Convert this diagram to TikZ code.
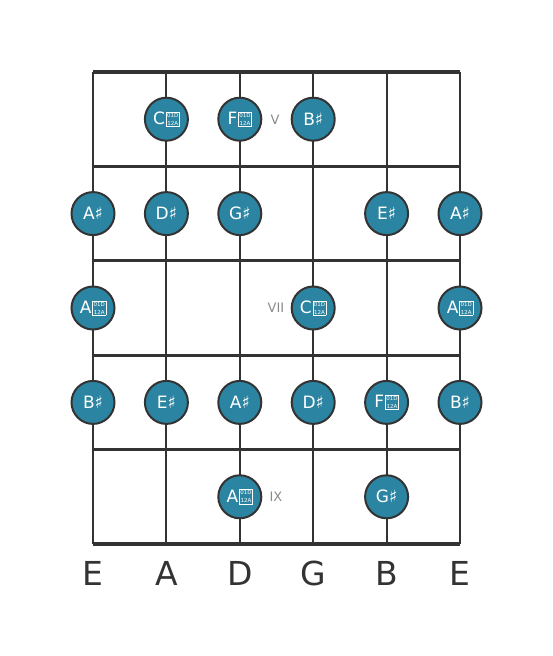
\documentclass[tikz,border=0pt]{standalone}
\usepackage{fontspec}
\setmainfont{DejaVu Sans}
\usetikzlibrary{calc}

\definecolor{notefill}{HTML}{2B84A1}
\definecolor{boardline}{HTML}{333333}
\definecolor{fretmark}{HTML}{8A8A8A}

% missing-glyph box printed for the double sharp
\newcommand{\dsharp}{{\setlength{\fboxsep}{0.7pt}\setlength{\fboxrule}{0.6pt}%
  \kern0.8pt\raisebox{-0.6pt}{\fbox{\fontsize{5.5}{6}\selectfont\shortstack{01D\\[0.8pt]12A}}}}}

\tikzset{
  note/.style={circle, minimum size=43, inner sep=0pt, fill=notefill,
    draw=boardline, line width=2, text=white, font=\fontsize{17}{17}\selectfont},
  fretnum/.style={text=fretmark, font=\fontsize{13}{13}\selectfont},
  stringname/.style={text=boardline, font=\fontsize{33}{33}\selectfont}
}

\begin{document}
\begin{tikzpicture}[x=1pt,y=-1pt]
  \useasboundingbox (0,0) rectangle (553,656);

  % grid of the board
  \def\xstart{93}  % first string
  \def\gap{73.4}   % string spacing
  \def\ynut{72}    % nut
  \def\fret{94.4}  % fret spacing

  % string ends
  \foreach \i in {0,...,5} {
    \coordinate (t\i) at ({\xstart+\i*\gap}, \ynut);
    \coordinate (b\i) at ({\xstart+\i*\gap}, {\ynut+5*\fret});
  }
  % fret ends
  \foreach \j in {0,...,5} {
    \coordinate (fl\j) at (\xstart, {\ynut+\j*\fret});
    \coordinate (fr\j) at ({\xstart+5*\gap}, {\ynut+\j*\fret});
  }

  % Draw strings
  \foreach \i in {0,...,5}
    \draw[boardline, line width=2] (t\i) -- (b\i);

  % Draw frets
  \draw[boardline, line width=4.5] (fl0) -- (fr0);
  \foreach \j in {1,...,4}
    \draw[boardline, line width=3.2] (fl\j) -- (fr\j);
  \draw[boardline, line width=4.5] (fl5) -- (fr5);

  % Draw notes (string/fret/name/label)
  \foreach \s/\f/\n/\l in {
      1/0/c1/C\dsharp, 2/0/f1/F\dsharp, 3/0/b1/B♯,
      0/1/a2/A♯, 1/1/d2/D♯, 2/1/g2/G♯, 4/1/e2/E♯, 5/1/a3/A♯,
      0/2/a4/A\dsharp, 3/2/c2/C\dsharp, 5/2/a5/A\dsharp,
      0/3/b2/B♯, 1/3/e3/E♯, 2/3/a6/A♯, 3/3/d3/D♯, 4/3/f2/F\dsharp, 5/3/b3/B♯,
      2/4/a7/A\dsharp, 4/4/g3/G♯}
    \node[note] (\n) at ({\xstart+\s*\gap}, {\ynut+(\f+0.5)*\fret}) {\l};

  % Fret numbers
  \node[fretnum] (v)   at (275, 120) {V};
  \node[fretnum] (vii) at (276, 308) {VII};
  \node[fretnum] (ix)  at (276, 497) {IX};

  % String names
  \foreach \i/\n in {0/E, 1/A, 2/D, 3/G, 4/B, 5/E}
    \node[stringname] (n\i) at ({\xstart+\i*\gap}, 573) {\n};
\end{tikzpicture}
\end{document}
